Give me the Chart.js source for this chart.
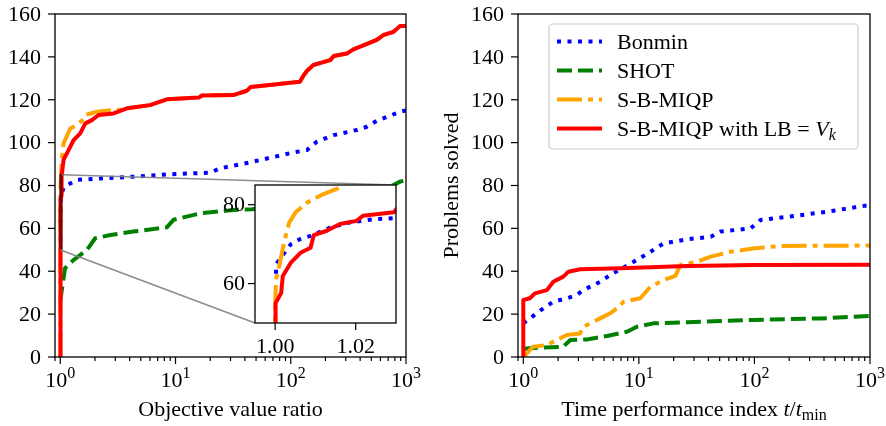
<!DOCTYPE html>
<html>
<head>
<meta charset="utf-8">
<script src="https://cdn.jsdelivr.net/npm/chart.js@4.4.1/dist/chart.umd.min.js"></script>
<style>
  body { margin: 0; background: #fff; }
  #wrap { position: relative; width: 886px; height: 426px; }
  canvas { position: absolute; }
</style>
</head>
<body>
<div id="wrap">
  <canvas id="left-chart" width="443" height="426" style="left:0;top:0;width:443px;height:426px"></canvas>
  <canvas id="right-chart" width="443" height="426" style="left:443px;top:0;width:443px;height:426px"></canvas>
  <canvas id="inset-chart" width="210" height="185" style="left:200px;top:175px;width:210px;height:185px"></canvas>
</div>
<script>
// ---- data: objective value ratio (left panel) ----
const bonminObjX = [1.0002, 1.0003, 1.0039, 1.006, 1.0088, 1.0137, 1.0185, 1.0242, 1.0295, 1.08, 1.4, 2.2, 4.3, 8.4, 20, 24.4, 44.5, 105, 138, 168, 236, 374, 457, 558, 889, 1000];
const bonminObjY = [62.5, 65, 70, 71.2, 72.1, 74.2, 75.5, 76.3, 76.6, 79.5, 82.6, 83.3, 84.1, 85.2, 86, 88, 90.8, 95.4, 96.5, 100.4, 103.5, 105.9, 107.4, 110.2, 114.4, 115];

const shotObjX = [1.0, 1.03, 1.1, 1.3, 1.7, 2.01, 2.72, 4.3, 8.4, 9.6, 16.4, 31.7, 46, 100, 200, 400, 728, 889, 1000];
const shotObjY = [26, 31, 41.4, 45.2, 49.9, 55.4, 56.9, 58.5, 60.5, 64, 67, 68.6, 68.9, 70.5, 72.5, 75.5, 79.4, 81.8, 82.5];

const sbObjX = [1, 1, 1.0002, 1.001, 1.0023, 1.0035, 1.0051, 1.008, 1.012, 1.0153, 1.0169, 1.034, 1.07, 1.22, 1.4, 1.59, 1.65, 2.08, 2.9, 3.4, 3.79, 6.0, 8.4, 16, 17, 31.7, 41.6, 45, 120, 128, 138, 157, 220, 236, 307, 350, 558, 637, 778, 889, 1000];
const sbObjY = [0, 53.4, 61, 64.4, 70.8, 75.5, 78.1, 80.6, 82.7, 84, 85.3, 93, 99.7, 106.6, 108.2, 111, 112.9, 114.4, 115.2, 115.3, 116, 117.5, 120.2, 121.1, 122, 122.2, 124.2, 126, 128.4, 131, 133.4, 136.2, 138.5, 140.4, 141.6, 143.5, 147.9, 150.2, 151.7, 154.4, 154.4];

const sbLbObjX = [1, 1, 1.0002, 1.0015, 1.0019, 1.0039, 1.0063, 1.0088, 1.0096, 1.0128, 1.0161, 1.0202, 1.0218, 1.0295, 1.034, 1.068, 1.18, 1.3, 1.49, 1.65, 1.88, 2.15, 2.9, 3.79, 6.0, 8.4, 16, 17, 31.7, 41.6, 45, 120, 128, 138, 157, 220, 236, 307, 350, 558, 637, 778, 889, 1000];
const sbLbObjY = [0, 50, 55.1, 57.6, 61.9, 65.3, 67.8, 69.1, 72.3, 73.4, 75.1, 75.9, 77.2, 78.1, 84, 92, 96.5, 101, 104.3, 109, 110.5, 112.9, 113.6, 116, 117.5, 120.2, 121.1, 122, 122.2, 124.2, 126, 128.4, 131, 133.4, 136.2, 138.5, 140.4, 141.6, 143.5, 147.9, 150.2, 151.7, 154.4, 154.4];

// ---- data: time performance index (right panel) ----
const bonminTimeX = [1, 1.14, 1.49, 1.82, 2.38, 2.9, 3.3, 4.63, 5.65, 7.4, 9.6, 12.6, 16.4, 26.2, 41.8, 50.9, 92.7, 113, 193, 430, 733, 1000];
const bonminTimeY = [15.7, 18, 22.7, 25.8, 27.4, 28.9, 31.2, 35.1, 38.2, 41.8, 45.2, 49.1, 53, 54.9, 56.1, 58.5, 60, 63.9, 65.4, 67.8, 69.8, 70.9];

const shotTimeX = [1, 1.05, 1.14, 2.22, 2.55, 3.55, 5.3, 7.9, 9.6, 13.4, 26.2, 100, 376, 1000];
const shotTimeY = [3.3, 4, 4.1, 4.8, 7.9, 8.2, 9.8, 11.8, 14.1, 15.7, 16.2, 17.3, 18, 19.1];

const sbTimeX = [1, 1.22, 1.6, 2.38, 3.1, 3.3, 4.63, 5.65, 6.47, 7.4, 10.3, 12.6, 16.4, 20.7, 22.9, 32, 41.8, 62.3, 100, 169, 1000];
const sbTimeY = [0, 4.8, 5.6, 10.3, 11, 14.1, 18, 20.4, 22.7, 25.8, 27.4, 32.8, 35.9, 37.8, 42.9, 44.5, 46.8, 49.1, 50.7, 51.8, 52];

const sbLbTimeX = [1, 1, 1.14, 1.26, 1.6, 1.82, 2.22, 2.46, 3.1, 6.9, 26.2, 100, 1000];
const sbLbTimeY = [0, 26.6, 27.4, 29.7, 31.2, 35.1, 37.5, 39.8, 40.9, 41.4, 42.4, 42.9, 43];

// ---- ticks ----
const yTicks = [0, 20, 40, 60, 80, 100, 120, 140, 160];
const logMajor = [1, 10, 100, 1000];
const logMinor = [0.9, 2, 3, 4, 5, 6, 7, 8, 9, 20, 30, 40, 50, 60, 70, 80, 90, 200, 300, 400, 500, 600, 700, 800, 900];
const insetXTicks = [1.00, 1.02];
const insetYTicks = [60, 80];

const FAMILY = '"Liberation Serif", "DejaVu Serif", serif';
const FONT = '22px ' + FAMILY;

// inset placement (page pixels) and its plot box inside its canvas
const INSET_CANVAS = { left: 200, top: 175 };
const INSET_AREA = { left: 55, top: 10, right: 196, bottom: 148 };

const styles = {
    bonmin: { borderColor: '#0000ff', borderDash: [4, 6.5], order: 3 },
    shot: { borderColor: '#008000', borderDash: [15, 6], order: 2 },
    sb: { borderColor: '#ffa500', borderDash: [25, 6, 5, 6], order: 1 },
    sbLb: { borderColor: '#ff0000', borderDash: [], order: 0 }
};

const series = (xs, ys, style) => ({
    data: xs.map((v, i) => ({ x: v, y: ys[i] })),
    borderWidth: 4,
    borderJoinStyle: 'round',
    pointRadius: 0,
    tension: 0,
    fill: false,
    clip: 0,
    ...style
});

const objDatasets = () => [
    series(bonminObjX, bonminObjY, styles.bonmin),
    series(shotObjX, shotObjY, styles.shot),
    series(sbObjX, sbObjY, styles.sb),
    series(sbLbObjX, sbLbObjY, styles.sbLb)
];

// draw text made of pieces (italic, subscript, superscript)
function drawRich(ctx, segs, x, y, align) {
    const fontOf = s => (s.italic ? 'italic ' : '') + (s.small ? '16px ' : '22px ') + FAMILY;
    let total = 0;
    segs.forEach(s => { ctx.font = fontOf(s); total += ctx.measureText(s.t).width; });
    let cx = align === 'center' ? x - total / 2 : x;
    ctx.textAlign = 'left';
    ctx.textBaseline = 'alphabetic';
    segs.forEach(s => {
        ctx.font = fontOf(s);
        ctx.fillText(s.t, cx, y + (s.dy || 0));
        cx += ctx.measureText(s.t).width;
    });
}

function line(ctx, x1, y1, x2, y2) {
    ctx.beginPath();
    ctx.moveTo(x1, y1);
    ctx.lineTo(x2, y2);
    ctx.stroke();
}

// frame, ticks and tick labels of a main panel
function drawMainAxes(chart, xTitle) {
    const { ctx, chartArea: a, scales: { x, y } } = chart;
    ctx.save();
    ctx.strokeStyle = '#000';
    ctx.fillStyle = '#000';
    ctx.lineWidth = 1.3;
    ctx.strokeRect(a.left, a.top, a.right - a.left, a.bottom - a.top);
    ctx.lineWidth = 1.2;
    ctx.font = FONT;
    ctx.textAlign = 'right';
    ctx.textBaseline = 'middle';
    yTicks.forEach(v => {
        const py = y.getPixelForValue(v);
        line(ctx, a.left - 7, py, a.left, py);
        ctx.fillText(String(v), a.left - 14, py + 1);
    });
    logMinor.forEach(v => {
        const px = x.getPixelForValue(v);
        line(ctx, px, a.bottom, px, a.bottom + 4);
    });
    logMajor.forEach((v, i) => {
        const px = x.getPixelForValue(v);
        line(ctx, px, a.bottom, px, a.bottom + 7);
        drawRich(ctx, [{ t: '10' }, { t: String(i), small: true, dy: -9 }], px, a.bottom + 30, 'center');
    });
    drawRich(ctx, xTitle, (a.left + a.right) / 2, 416, 'center');
    ctx.restore();
}

const baseOptions = (xMin, padding, yWidth, xHeight) => ({
    responsive: false,
    animation: false,
    devicePixelRatio: 1,
    layout: { padding: padding },
    plugins: { legend: { display: false }, tooltip: { enabled: false } },
    scales: {
        x: {
            type: 'logarithmic', min: xMin, max: 1000,
            grid: { display: false }, border: { display: false }, ticks: { display: false },
            afterFit: s => { s.height = xHeight; }
        },
        y: {
            type: 'linear', min: 0, max: 160,
            grid: { display: false }, border: { display: false }, ticks: { display: false },
            afterFit: s => { s.width = yWidth; }
        }
    }
});

// ---- left panel ----
new Chart(document.getElementById('left-chart'), {
    type: 'line',
    data: { datasets: objDatasets() },
    options: baseOptions(0.9, { left: 0, right: 37, top: 14, bottom: 0 }, 55, 69),
    plugins: [{
        id: 'leftDecor',
        afterDatasetsDraw(chart) {
            const { ctx, scales: { x, y } } = chart;
            const x0 = x.getPixelForValue(0.995), x1 = x.getPixelForValue(1.03);
            const y0 = y.getPixelForValue(50), y1 = y.getPixelForValue(85);
            ctx.save();
            ctx.strokeStyle = 'rgba(0,0,0,0.55)';
            ctx.lineWidth = 1.5;
            ctx.strokeRect(x0, y1, x1 - x0, y0 - y1);
            ctx.strokeStyle = 'rgba(128,128,128,0.9)';
            ctx.lineWidth = 1.5;
            line(ctx, x1, y1, INSET_CANVAS.left + INSET_AREA.right, INSET_CANVAS.top + INSET_AREA.top);
            line(ctx, x0, y0, INSET_CANVAS.left + INSET_AREA.left, INSET_CANVAS.top + INSET_AREA.bottom);
            ctx.restore();
        },
        afterDraw(chart) {
            drawMainAxes(chart, [{ t: 'Objective value ratio' }]);
        }
    }]
});

// ---- right panel ----
const legendItems = [
    { style: styles.bonmin, text: [{ t: 'Bonmin' }] },
    { style: styles.shot, text: [{ t: 'SHOT' }] },
    { style: styles.sb, text: [{ t: 'S-B-MIQP' }] },
    { style: styles.sbLb, text: [{ t: 'S-B-MIQP with LB = ' }, { t: 'V', italic: true }, { t: 'k', italic: true, small: true, dy: 4 }] }
];

new Chart(document.getElementById('right-chart'), {
    type: 'line',
    data: {
        datasets: [
            series(bonminTimeX, bonminTimeY, styles.bonmin),
            series(shotTimeX, shotTimeY, styles.shot),
            series(sbTimeX, sbTimeY, styles.sb),
            series(sbLbTimeX, sbLbTimeY, styles.sbLb)
        ]
    },
    options: baseOptions(0.9, { left: 0, right: 16, top: 14, bottom: 0 }, 75, 69),
    plugins: [{
        id: 'rightDecor',
        afterDraw(chart) {
            const { ctx, chartArea: a } = chart;
            drawMainAxes(chart, [
                { t: 'Time performance index ' }, { t: 't', italic: true }, { t: '/' },
                { t: 't', italic: true }, { t: 'min', small: true, dy: 4 }
            ]);
            ctx.save();
            // y title
            ctx.translate(9, (a.top + a.bottom) / 2);
            ctx.rotate(-Math.PI / 2);
            ctx.font = FONT;
            ctx.fillStyle = '#000';
            ctx.textAlign = 'center';
            ctx.textBaseline = 'middle';
            ctx.fillText('Problems solved', 0, 0);
            ctx.restore();

            // legend
            ctx.save();
            const bx = 106, by = 24, bw = 309, bh = 125;
            ctx.beginPath();
            ctx.roundRect(bx, by, bw, bh, 4);
            ctx.fillStyle = 'rgba(255,255,255,0.8)';
            ctx.fill();
            ctx.strokeStyle = '#cccccc';
            ctx.lineWidth = 1.2;
            ctx.stroke();
            legendItems.forEach((item, i) => {
                const cy = 41.5 + i * 29;
                ctx.strokeStyle = item.style.borderColor;
                ctx.lineWidth = 4;
                ctx.setLineDash(item.style.borderDash);
                line(ctx, 114, cy, 159, cy);
                ctx.setLineDash([]);
                ctx.fillStyle = '#000';
                drawRich(ctx, item.text, 174, cy + 7, 'left');
            });
            ctx.restore();
        }
    }]
});

// ---- inset (zoom of the left panel near ratio 1) ----
new Chart(document.getElementById('inset-chart'), {
    type: 'line',
    data: { datasets: objDatasets() },
    options: {
        responsive: false,
        animation: false,
        devicePixelRatio: 1,
        layout: { padding: { left: 0, right: 210 - INSET_AREA.right, top: INSET_AREA.top, bottom: 0 } },
        plugins: { legend: { display: false }, tooltip: { enabled: false } },
        scales: {
            x: {
                type: 'linear', min: 0.995, max: 1.03,
                grid: { display: false }, border: { display: false }, ticks: { display: false },
                afterFit: s => { s.height = 185 - INSET_AREA.bottom; }
            },
            y: {
                type: 'linear', min: 50, max: 85,
                grid: { display: false }, border: { display: false }, ticks: { display: false },
                afterFit: s => { s.width = INSET_AREA.left; }
            }
        }
    },
    plugins: [{
        id: 'insetDecor',
        beforeDatasetsDraw(chart) {
            const { ctx, chartArea: a } = chart;
            ctx.save();
            ctx.fillStyle = '#fff';
            ctx.fillRect(a.left, a.top, a.right - a.left, a.bottom - a.top);
            ctx.restore();
        },
        afterDraw(chart) {
            const { ctx, chartArea: a, scales: { x, y } } = chart;
            ctx.save();
            ctx.strokeStyle = '#000';
            ctx.fillStyle = '#000';
            ctx.lineWidth = 1.3;
            ctx.strokeRect(a.left, a.top, a.right - a.left, a.bottom - a.top);
            ctx.lineWidth = 1.2;
            ctx.font = FONT;
            ctx.textAlign = 'right';
            ctx.textBaseline = 'middle';
            insetYTicks.forEach(v => {
                const py = y.getPixelForValue(v);
                line(ctx, a.left - 7, py, a.left, py);
                ctx.fillText(String(v), a.left - 10, py + 1);
            });
            ctx.textAlign = 'center';
            ctx.textBaseline = 'alphabetic';
            insetXTicks.forEach(v => {
                const px = x.getPixelForValue(v);
                line(ctx, px, a.bottom, px, a.bottom + 7);
                ctx.fillText(v.toFixed(2), px, a.bottom + 30);
            });
            ctx.restore();
        }
    }]
});
</script>
</body>
</html>
